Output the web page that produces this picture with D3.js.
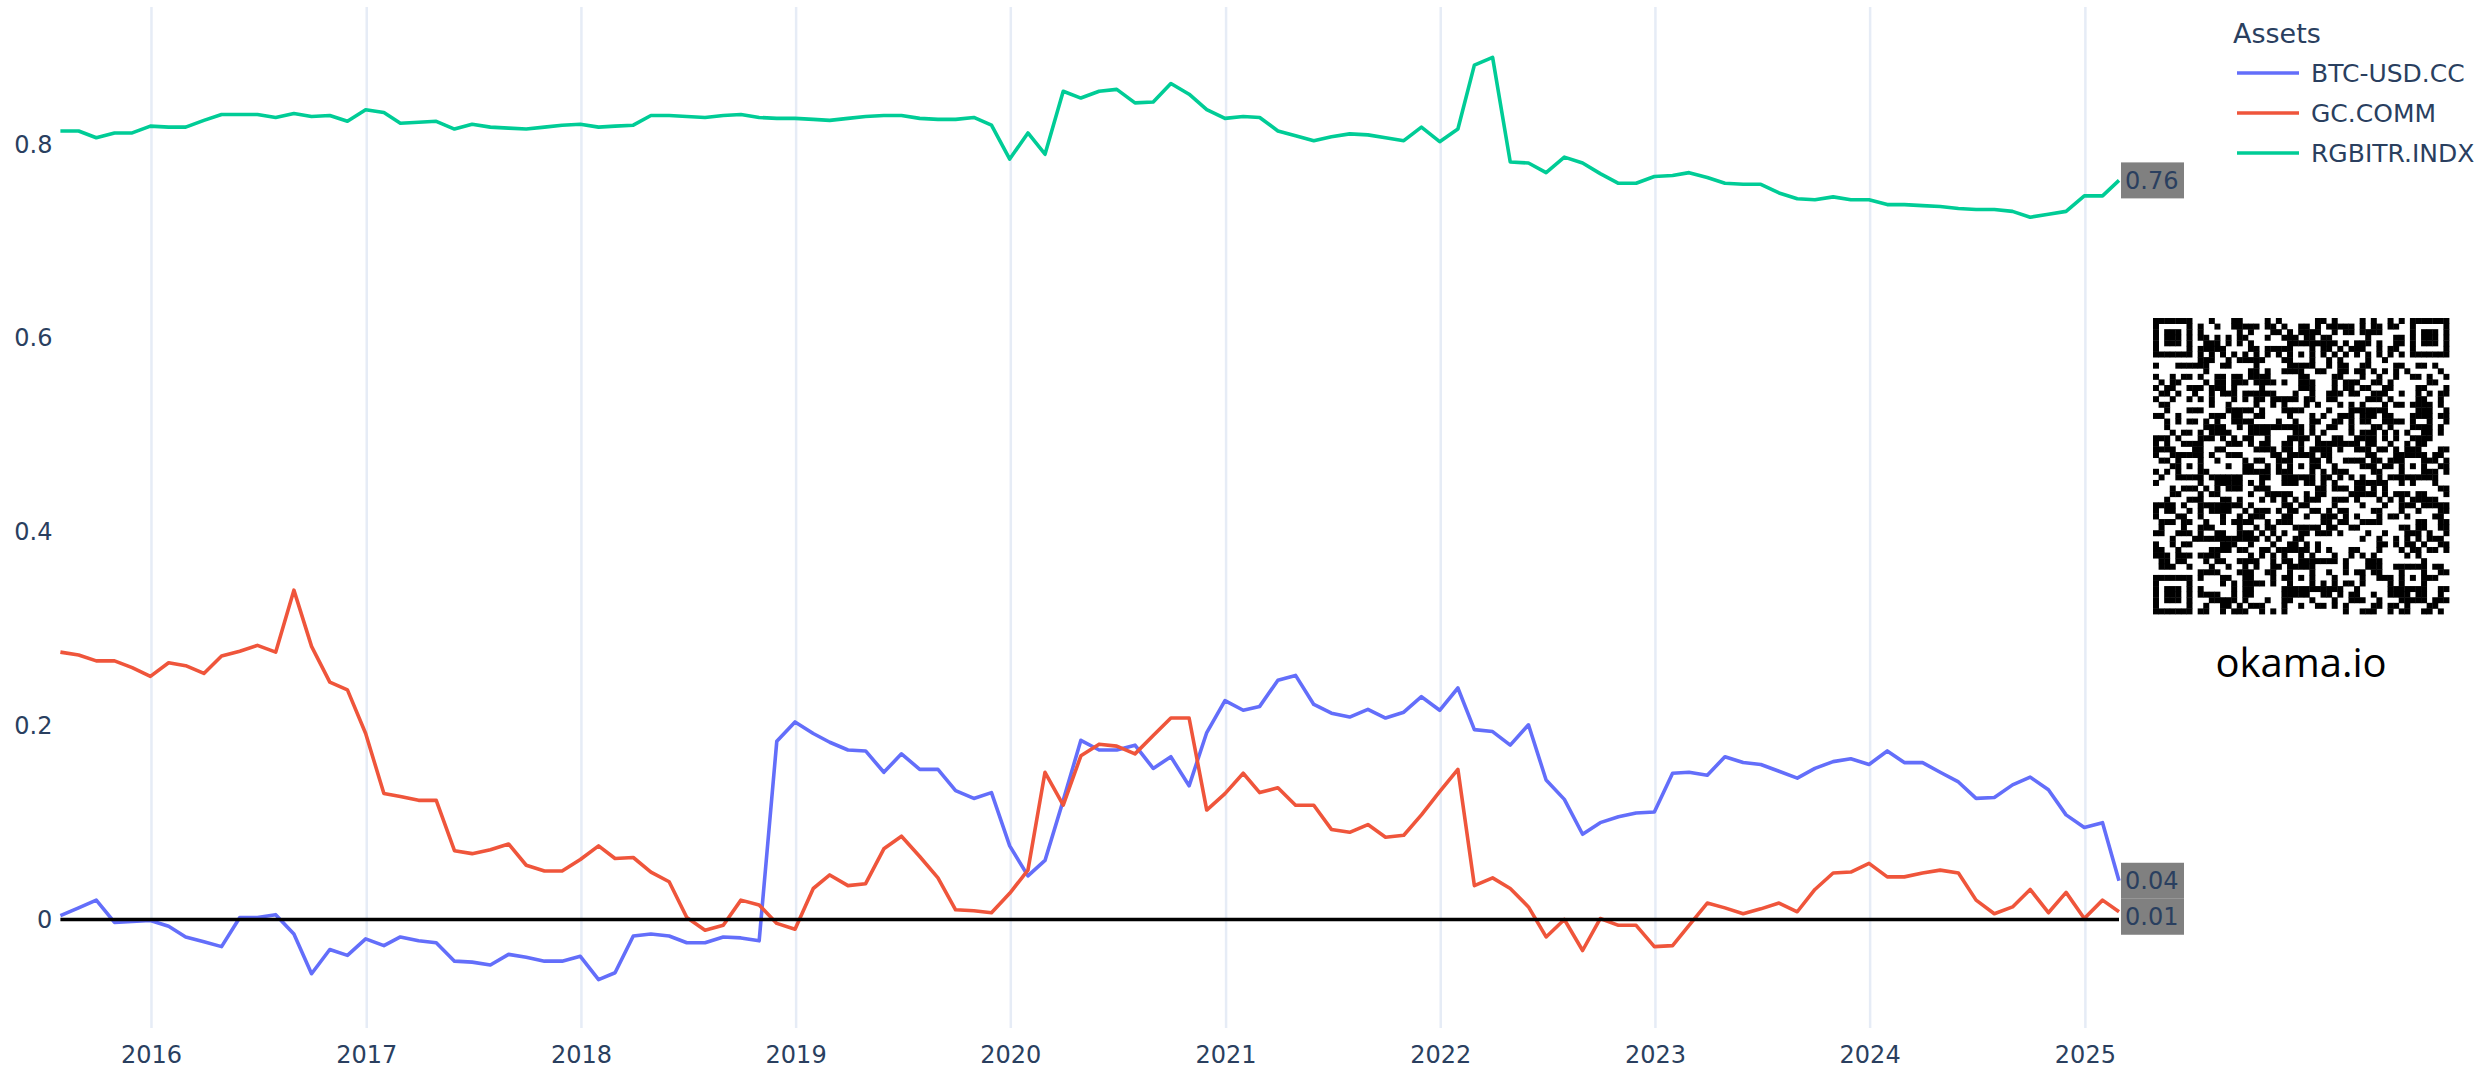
<!DOCTYPE html>
<html>
<head>
<meta charset="utf-8">
<script src="https://cdn.jsdelivr.net/npm/d3@7"></script>
<style>
  body { margin: 0; background: #fff; }
  svg text { font-family: "DejaVu Sans", Verdana, sans-serif; fill: #2a3f5f; }
</style>
</head>
<body>
<svg class="corr-chart" width="2486" height="1068"></svg>
<script>
const assets = ['BTC-USD.CC', 'GC.COMM', 'RGBITR.INDX'];
const colors = ['#636efa', '#ef553b', '#00cc96'];
const years = [2016, 2017, 2018, 2019, 2020, 2021, 2022, 2023, 2024, 2025];
const yTicks = [0, 0.2, 0.4, 0.6, 0.8];

// month-end points, Jul 2015 .. Feb 2025
const monthStarts = d3.timeMonth.range(new Date(2015, 7, 1), new Date(2025, 3, 1));
const dates = monthStarts.map(d => d3.timeDay.offset(d, -1));

const btc = [0.004, 0.012, 0.020, -0.003, -0.002, -0.001, -0.007, -0.018, -0.023, -0.028,
  0.002, 0.002, 0.005, -0.015, -0.056, -0.031, -0.037, -0.020, -0.027, -0.018,
  -0.022, -0.024, -0.043, -0.044, -0.047, -0.036, -0.039, -0.043, -0.043, -0.038,
  -0.062, -0.055, -0.017, -0.015, -0.017, -0.024, -0.024, -0.018, -0.019, -0.022,
  0.184, 0.204, 0.192, 0.183, 0.175, 0.174, 0.152, 0.171, 0.155, 0.155,
  0.133, 0.125, 0.131, 0.076, 0.045, 0.061, 0.123, 0.185, 0.175, 0.175,
  0.180, 0.156, 0.168, 0.138, 0.193, 0.226, 0.216, 0.220, 0.247, 0.252,
  0.222, 0.213, 0.209, 0.217, 0.208, 0.214, 0.230, 0.216, 0.239, 0.196,
  0.194, 0.180, 0.201, 0.144, 0.124, 0.088, 0.100, 0.106, 0.110, 0.111,
  0.151, 0.152, 0.149, 0.168, 0.162, 0.160, 0.153, 0.146, 0.156, 0.163,
  0.166, 0.160, 0.174, 0.162, 0.162, 0.152, 0.142, 0.125, 0.126, 0.139,
  0.147, 0.134, 0.108, 0.095, 0.100, 0.040];

const gold = [0.276, 0.273, 0.267, 0.267, 0.260, 0.251, 0.265, 0.262, 0.254, 0.272,
  0.277, 0.283, 0.276, 0.340, 0.282, 0.245, 0.237, 0.192, 0.130, 0.127,
  0.123, 0.123, 0.071, 0.068, 0.072, 0.078, 0.056, 0.050, 0.050, 0.062,
  0.076, 0.063, 0.064, 0.049, 0.039, 0.002, -0.011, -0.006, 0.020, 0.015,
  -0.004, -0.010, 0.032, 0.046, 0.035, 0.037, 0.073, 0.086, 0.065, 0.043,
  0.010, 0.009, 0.007, 0.027, 0.051, 0.152, 0.118, 0.169, 0.181, 0.179,
  0.171, 0.190, 0.208, 0.208, 0.113, 0.130, 0.151, 0.131, 0.136, 0.118,
  0.118, 0.093, 0.090, 0.098, 0.085, 0.087, 0.108, 0.132, 0.155, 0.035,
  0.043, 0.032, 0.013, -0.018, 0.000, -0.032, 0.001, -0.006, -0.006, -0.028,
  -0.027, -0.006, 0.017, 0.012, 0.006, 0.011, 0.017, 0.008, 0.031, 0.048,
  0.049, 0.058, 0.044, 0.044, 0.048, 0.051, 0.048, 0.020, 0.006, 0.013,
  0.031, 0.007, 0.028, 0.001, 0.020, 0.008];

const rgbi = [0.814, 0.814, 0.807, 0.812, 0.812, 0.819, 0.818, 0.818, 0.825, 0.831,
  0.831, 0.831, 0.828, 0.832, 0.829, 0.830, 0.824, 0.836, 0.833, 0.822,
  0.823, 0.824, 0.816, 0.821, 0.818, 0.817, 0.816, 0.818, 0.820, 0.821,
  0.818, 0.819, 0.820, 0.830, 0.830, 0.829, 0.828, 0.830, 0.831, 0.828,
  0.827, 0.827, 0.826, 0.825, 0.827, 0.829, 0.830, 0.830, 0.827, 0.826,
  0.826, 0.828, 0.820, 0.785, 0.812, 0.790, 0.855, 0.848, 0.855, 0.857,
  0.843, 0.844, 0.863, 0.852, 0.836, 0.827, 0.829, 0.828, 0.814, 0.809,
  0.804, 0.808, 0.811, 0.810, 0.807, 0.804, 0.818, 0.803, 0.816, 0.882,
  0.890, 0.782, 0.781, 0.771, 0.787, 0.781, 0.770, 0.760, 0.760, 0.767,
  0.768, 0.771, 0.766, 0.760, 0.759, 0.759, 0.750, 0.744, 0.743, 0.746,
  0.743, 0.743, 0.738, 0.738, 0.737, 0.736, 0.734, 0.733, 0.733, 0.731,
  0.725, 0.728, 0.731, 0.747, 0.747, 0.763];

const series = [btc, gold, rgbi];

const svg = d3.select('svg.corr-chart');
const plot = { left: 60.4, right: 2119, top: 7, bottom: 1028 };

const xScale = d3.scaleTime()
  .domain(d3.extent(dates))
  .range([plot.left, plot.right]);

const yScale = d3.scaleLinear()
  .domain([-0.112, 0.942])
  .range([plot.bottom, plot.top]);

const yearDates = years.map(y => new Date(y, 0, 1));

// vertical grid
svg.append('g')
  .attr('transform', `translate(0, ${plot.bottom})`)
  .call(d3.axisBottom(xScale).tickValues(yearDates).tickSize(-(plot.bottom - plot.top)).tickFormat(''))
  .call(g => g.select('.domain').remove())
  .selectAll('line')
    .attr('stroke', '#e6ecf6')
    .attr('stroke-width', 2.5);

// x labels
svg.append('g')
  .attr('class', 'x-axis')
  .attr('transform', `translate(0, ${plot.bottom})`)
  .call(d3.axisBottom(xScale).tickValues(yearDates).tickFormat(d3.timeFormat('%Y')).tickSize(0).tickPadding(18))
  .call(g => g.select('.domain').remove())
  .selectAll('text')
    .attr('font-size', 24)
    .attr('fill', '#2a3f5f');

// y labels
svg.append('g')
  .attr('class', 'y-axis')
  .attr('transform', `translate(${plot.left}, 0)`)
  .call(d3.axisLeft(yScale).tickValues(yTicks)
    .tickFormat(d => d === 0 ? '0' : d3.format('.1f')(d)).tickSize(0).tickPadding(8))
  .call(g => g.select('.domain').remove())
  .selectAll('text')
    .attr('font-size', 24)
    .attr('fill', '#2a3f5f');

const line = d3.line()
  .x((d, i) => xScale(dates[i]))
  .y(d => yScale(d));

svg.append('g').selectAll('path')
  .data(series)
  .enter().append('path')
    .attr('d', line)
    .attr('fill', 'none')
    .attr('stroke', (d, i) => colors[i])
    .attr('stroke-width', 3.6)
    .attr('stroke-linejoin', 'round');

// zero line on top of traces
svg.append('line')
  .attr('x1', xScale(dates[0]))
  .attr('x2', xScale(dates[dates.length - 1]))
  .attr('y1', yScale(0))
  .attr('y2', yScale(0))
  .attr('stroke', '#000')
  .attr('stroke-width', 3.5);

// last-value labels
const boxH = 36;
const lastX = xScale(dates[dates.length - 1]);
const ends = series.map(s => ({ v: s[s.length - 1], cy: yScale(s[s.length - 1]) }))
  .sort((a, b) => a.cy - b.cy);
ends.forEach((d, i) => {
  d.top = d.cy - boxH / 2;
  if (i > 0 && d.top < ends[i - 1].top + boxH) d.top = ends[i - 1].top + boxH;
});

const endG = svg.append('g').selectAll('g')
  .data(ends)
  .enter().append('g')
    .attr('transform', d => `translate(${lastX + 2}, ${d.top})`);

endG.append('rect')
  .attr('width', 63)
  .attr('height', boxH)
  .attr('fill', '#808080');

endG.append('text')
  .attr('x', 4)
  .attr('y', boxH / 2)
  .attr('dy', '0.36em')
  .attr('font-size', 24)
  .text(d => d3.format('.2f')(d.v));

// legend
const legend = svg.append('g').attr('transform', 'translate(2233, 0)');
legend.append('text')
  .attr('x', 0)
  .attr('y', 43)
  .attr('font-size', 27)
  .text('Assets');

const items = legend.selectAll('g.item')
  .data(assets)
  .enter().append('g')
    .attr('class', 'item')
    .attr('transform', (d, i) => `translate(0, ${73 + i * 40})`);

items.append('line')
  .attr('x1', 4).attr('x2', 66)
  .attr('stroke', (d, i) => colors[i])
  .attr('stroke-width', 3.5);

items.append('text')
  .attr('x', 78)
  .attr('dy', '0.36em')
  .attr('font-size', 25)
  .text(d => d);

// QR code style badge (decorative module pattern)
const qrN = 53;
const qrPx = 296;
const cellSize = qrPx / qrN;
const grid = Array.from({ length: qrN }, () => Array(qrN).fill(null));

const finder = (r0, c0) => {
  for (let r = -1; r <= 7; r++) {
    for (let c = -1; c <= 7; c++) {
      const rr = r0 + r, cc = c0 + c;
      if (rr < 0 || cc < 0 || rr >= qrN || cc >= qrN) continue;
      const inside = r >= 0 && r <= 6 && c >= 0 && c <= 6;
      grid[rr][cc] = inside && (r === 0 || r === 6 || c === 0 || c === 6 || (r >= 2 && r <= 4 && c >= 2 && c <= 4));
    }
  }
};
finder(0, 0);
finder(0, qrN - 7);
finder(qrN - 7, 0);

for (let i = 8; i < qrN - 8; i++) {
  grid[6][i] = i % 2 === 0;
  grid[i][6] = i % 2 === 0;
}

const alignAt = [6, 26, 46];
alignAt.forEach(r => alignAt.forEach(c => {
  if ((r === 6 && c === 6) || (r === 6 && c === 46) || (r === 46 && c === 6)) return;
  for (let dr = -2; dr <= 2; dr++) {
    for (let dc = -2; dc <= 2; dc++) {
      grid[r + dr][c + dc] = Math.max(Math.abs(dr), Math.abs(dc)) !== 1;
    }
  }
}));
grid[qrN - 8][8] = true;

const moduleBit = (r, c) => {
  let h = ((r * qrN + c + 1) * 2654435761) >>> 0;
  h ^= h >>> 15;
  h = Math.imul(h, 2246822519) >>> 0;
  h ^= h >>> 13;
  h = Math.imul(h, 3266489917) >>> 0;
  h ^= h >>> 16;
  return (h & 1) === 1;
};

const cells = [];
for (let r = 0; r < qrN; r++) {
  for (let c = 0; c < qrN; c++) {
    const v = grid[r][c] === null ? moduleBit(r, c) : grid[r][c];
    if (v) cells.push({ r, c });
  }
}

const qr = svg.append('g').attr('transform', 'translate(2153, 318)');
qr.selectAll('rect')
  .data(cells)
  .enter().append('rect')
    .attr('x', d => d.c * cellSize)
    .attr('y', d => d.r * cellSize)
    .attr('width', cellSize + 0.4)
    .attr('height', cellSize + 0.4)
    .attr('fill', '#000');

svg.append('text')
  .attr('x', 2301)
  .attr('y', 677)
  .attr('text-anchor', 'middle')
  .attr('font-size', 40)
  .style('font-family', '"Open Sans", sans-serif')
  .style('fill', '#000')
  .text('okama.io');
</script>
</body>
</html>
